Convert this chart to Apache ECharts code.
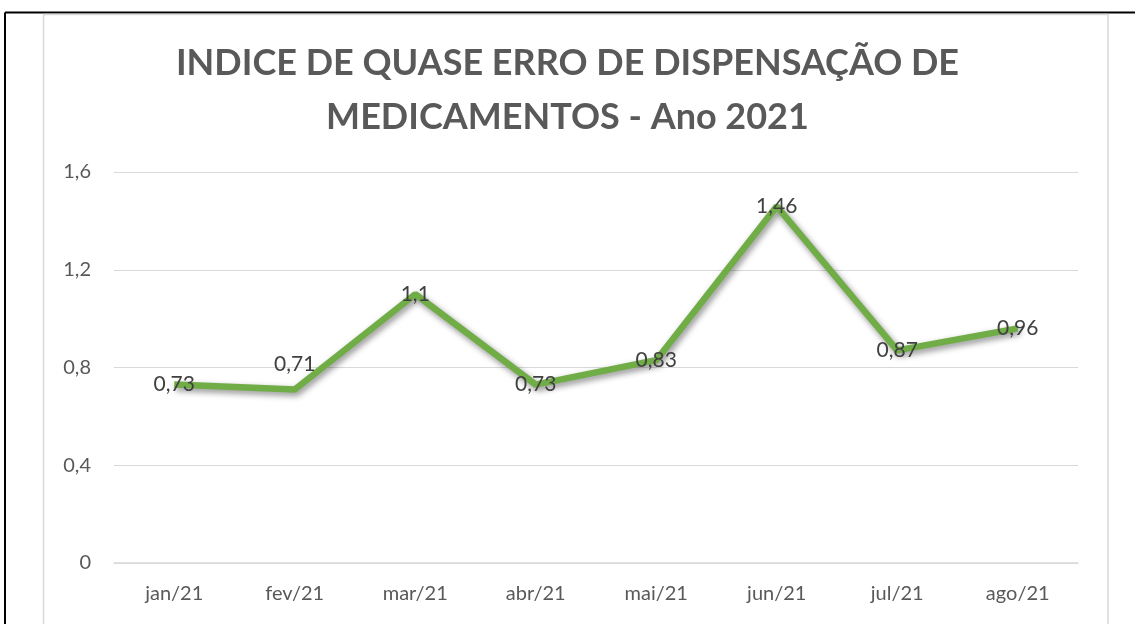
<!DOCTYPE html>
<html>
<head>
<meta charset="utf-8">
<script src="https://cdn.jsdelivr.net/npm/echarts@6/dist/echarts.min.js"></script>
<style>
  html, body { margin: 0; padding: 0; background: #fff; }
  #chart { width: 1135px; height: 624px; }
</style>
</head>
<body>
<div id="chart"></div>
<script>
const months = ["jan/21", "fev/21", "mar/21", "abr/21", "mai/21", "jun/21", "jul/21", "ago/21"];
const indice = [0.73, 0.71, 1.1, 0.73, 0.83, 1.46, 0.87, 0.96];
// only fev has its label above the point, the rest sit on the line
const labelAbove = [false, true, false, false, false, false, false, false];

const fontFam = "Lato, 'Open Sans', sans-serif";
const toComma = (v) => String(v).replace(".", ",");

const chart = echarts.init(document.getElementById("chart"));

const option = {
  animation: false,
  backgroundColor: "#fff",
  title: {
    text: "INDICE DE QUASE ERRO DE DISPENSAÇÃO DE\nMEDICAMENTOS - Ano 2021",
    left: "center",
    top: 31,
    textStyle: {
      color: "#595959",
      fontFamily: fontFam,
      fontWeight: "bold",
      fontSize: 36,
      lineHeight: 54,
      align: "center",
    },
  },
  grid: { left: 114, right: 57, top: 172, bottom: 61 },
  xAxis: {
    type: "category",
    data: months,
    boundaryGap: true,
    axisLine: { lineStyle: { color: "#d9d9d9", width: 1.5 } },
    axisTick: { show: false },
    axisLabel: { color: "#595959", fontSize: 20, fontFamily: fontFam, margin: 21 },
  },
  yAxis: {
    type: "value",
    min: 0,
    max: 1.6,
    interval: 0.4,
    axisLine: { show: false },
    axisTick: { show: false },
    splitLine: { lineStyle: { color: "#d9d9d9", width: 1 } },
    axisLabel: {
      color: "#595959",
      fontSize: 20,
      fontFamily: fontFam,
      margin: 23,
      formatter: (v) => toComma(Math.round(v * 10) / 10),
    },
  },
  series: [
    {
      type: "line",
      data: indice.map((v, i) => ({
        value: v,
        label: { distance: labelAbove[i] ? 14 : -11 },
      })),
      symbol: "circle",
      symbolSize: 1,
      showSymbol: true,
      itemStyle: { color: "rgba(0,0,0,0)" },
      lineStyle: {
        color: "#70AD47",
        width: 6.5,
        shadowColor: "rgba(0,0,0,0.45)",
        shadowBlur: 6,
        shadowOffsetX: 2,
        shadowOffsetY: 3,
      },
      label: {
        show: true,
        position: "top",
        color: "#404040",
        fontSize: 21,
        fontFamily: fontFam,
        formatter: (p) => toComma(p.value),
      },
      z: 3,
    },
  ],
  graphic: [
    // outer black frame (top + left only)
    { type: "line", shape: { x1: 5, y1: 12.5, x2: 1135, y2: 12.5 }, style: { stroke: "#000", lineWidth: 2 }, z: 10 },
    { type: "line", shape: { x1: 5, y1: 12.5, x2: 5, y2: 624 }, style: { stroke: "#000", lineWidth: 2 }, z: 10 },
    // chart area grey frame
    {
      type: "polyline",
      shape: { points: [[43.5, 624], [43.5, 14.5], [1108, 14.5], [1108, 624]] },
      style: { stroke: "#d9d9d9", lineWidth: 1.5, fill: null },
      z: 10,
    },
  ],
};

chart.setOption(option);
</script>
</body>
</html>
